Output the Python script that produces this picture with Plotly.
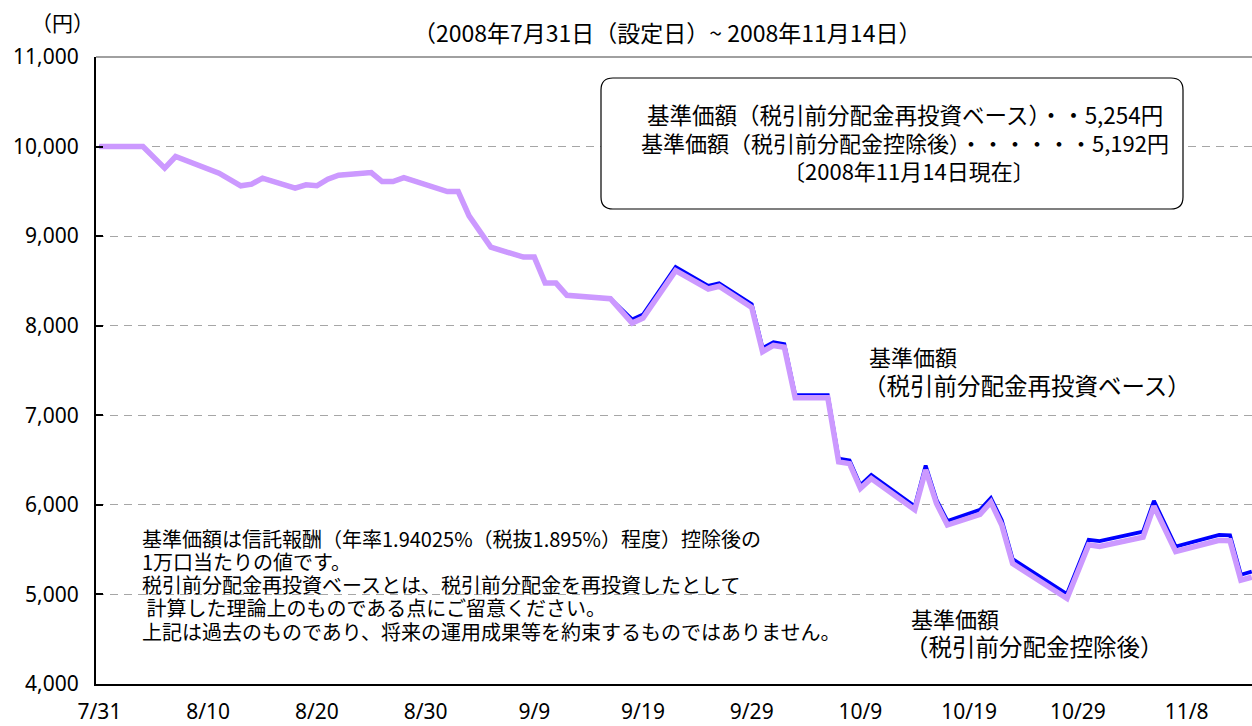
import plotly.graph_objects as go

# ---- data ----
dates = ["2008-07-31", "2008-08-04", "2008-08-06", "2008-08-07", "2008-08-11", "2008-08-13",
         "2008-08-14", "2008-08-15", "2008-08-18", "2008-08-19", "2008-08-20", "2008-08-21",
         "2008-08-22", "2008-08-25", "2008-08-26", "2008-08-27", "2008-08-28", "2008-09-01",
         "2008-09-02", "2008-09-03", "2008-09-05", "2008-09-08", "2008-09-09", "2008-09-10",
         "2008-09-11", "2008-09-12", "2008-09-16", "2008-09-18", "2008-09-19", "2008-09-22",
         "2008-09-25", "2008-09-26", "2008-09-29", "2008-09-30", "2008-10-01", "2008-10-02",
         "2008-10-03", "2008-10-06", "2008-10-07", "2008-10-08", "2008-10-09", "2008-10-10",
         "2008-10-14", "2008-10-15", "2008-10-16", "2008-10-17", "2008-10-20", "2008-10-21",
         "2008-10-22", "2008-10-23", "2008-10-28", "2008-10-30", "2008-10-31", "2008-11-04",
         "2008-11-05", "2008-11-07", "2008-11-11", "2008-11-12", "2008-11-13", "2008-11-14"]

nav_after_dist = [10000, 10000, 9759, 9889, 9703, 9562,
                  9581, 9648, 9536, 9573, 9562, 9636,
                  9681, 9710, 9610, 9610, 9654, 9498,
                  9498, 9227, 8877, 8766, 8766, 8476,
                  8476, 8339, 8302, 8030, 8086, 8615,
                  8410, 8440, 8205, 7710, 7780, 7760,
                  7195, 7195, 6480, 6460, 6185, 6295,
                  5945, 6390, 6015, 5775, 5895, 6030,
                  5775, 5345, 4955, 5555, 5535, 5640,
                  5985, 5480, 5605, 5600, 5160, 5192]

nav_reinvest = [10000, 10000, 9759, 9889, 9703, 9562,
                9581, 9648, 9536, 9573, 9562, 9636,
                9681, 9710, 9610, 9610, 9654, 9498,
                9498, 9227, 8877, 8766, 8766, 8476,
                8476, 8339, 8302, 8070, 8125, 8655,
                8445, 8475, 8240, 7750, 7815, 7795,
                7225, 7225, 6515, 6495, 6220, 6335,
                5985, 6440, 6055, 5820, 5945, 6075,
                5830, 5395, 5005, 5610, 5595, 5700,
                6045, 5535, 5665, 5660, 5220, 5254]

x_tick_dates = ["2008-07-31", "2008-08-10", "2008-08-20", "2008-08-30", "2008-09-09", "2008-09-19",
                "2008-09-29", "2008-10-09", "2008-10-19", "2008-10-29", "2008-11-08"]
x_tick_labels = ["7/31", "8/10", "8/20", "8/30", "9/9", "9/19", "9/29", "10/9", "10/19", "10/29", "11/8"]
y_tick_vals = [4000, 5000, 6000, 7000, 8000, 9000, 10000, 11000]
y_tick_labels = ["4,000", "5,000", "6,000", "7,000", "8,000", "9,000", "10,000", "11,000"]

# ---- layout geometry (page pixels) ----
W, H = 1252, 726
L, R, T, B = 96, 1252, 57, 684   # plot area in page pixels

def px(x):
    return (x - L) / (R - L)

def py(y):
    return (B - y) / (B - T)

NUM = "Liberation Sans Narrow, Arial Narrow, Noto Sans, sans-serif"
JP = "Noto Sans CJK JP, sans-serif"

fig = go.Figure()
fig.add_trace(go.Scatter(x=dates, y=nav_reinvest, mode="lines",
                         line=dict(color="#0000FF", width=3.8),
                         name="基準価額（税引前分配金再投資ベース）", showlegend=False))
fig.add_trace(go.Scatter(x=dates, y=nav_after_dist, mode="lines",
                         line=dict(color="#CC99FF", width=5.5),
                         name="基準価額（税引前分配金控除後）", showlegend=False))

fig.update_layout(
    width=W, height=H,
    margin=dict(l=L, r=W - R, t=T, b=H - B, pad=0),
    paper_bgcolor="white", plot_bgcolor="white",
    font=dict(family=JP, size=20, color="black"),
    xaxis=dict(type="date", range=["2008-07-30 16:20", "2008-11-14 00:30"],
               tickvals=x_tick_dates, ticktext=x_tick_labels,
               showgrid=False, zeroline=False, showline=True, linecolor="black", linewidth=2,
               ticks="", tickfont=dict(family=NUM, size=21), ticklabelstandoff=8,
               automargin=False),
    yaxis=dict(range=[4000, 11000], tickvals=y_tick_vals, ticktext=y_tick_labels,
               showgrid=True, gridcolor="#A6A6A6", gridwidth=1, griddash="8px,6px",
               zeroline=False, showline=True, linecolor="black", linewidth=2,
               ticks="inside", ticklen=7, tickwidth=1.5, tickcolor="black",
               tickfont=dict(family=NUM, size=21), ticklabelstandoff=11,
               automargin=False),
)

# top border of plot area
fig.add_shape(type="line", xref="paper", yref="paper", x0=0, x1=1, y0=1, y1=1,
              line=dict(color="#808080", width=1.5))

# rounded info box
bx0, bx1, by0, by1, r = 601, 1183, 78, 209, 12
path = (f"M {px(bx0 + r)},{py(by0)} L {px(bx1 - r)},{py(by0)} "
        f"Q {px(bx1)},{py(by0)} {px(bx1)},{py(by0 + r)} "
        f"L {px(bx1)},{py(by1 - r)} Q {px(bx1)},{py(by1)} {px(bx1 - r)},{py(by1)} "
        f"L {px(bx0 + r)},{py(by1)} Q {px(bx0)},{py(by1)} {px(bx0)},{py(by1 - r)} "
        f"L {px(bx0)},{py(by0 + r)} Q {px(bx0)},{py(by0)} {px(bx0 + r)},{py(by0)} Z")
fig.add_shape(type="path", xref="paper", yref="paper", path=path,
              line=dict(color="black", width=1.2), fillcolor="white", layer="above")

def text(x, y, s, size=20, xanchor="left", family=JP):
    fig.add_annotation(x=px(x), y=py(y), xref="paper", yref="paper", text=s,
                       showarrow=False, xanchor=xanchor, yanchor="middle",
                       font=dict(family=family, size=size, color="black"))

text(62, 22, "（円）", size=21, xanchor="center")
text(667, 32, "（2008年7月31日（設定日）~ 2008年11月14日）", size=23, xanchor="center")

text(905, 114, "基準価額（税引前分配金再投資ベース）・・5,254円", size=22.5, xanchor="center")
text(905, 142, "基準価額（税引前分配金控除後）・・・・・・5,192円", size=22, xanchor="center")
text(909, 170, "〔2008年11月14日現在〕", size=22, xanchor="center")

text(867, 356, "基準価額", size=22)
text(861, 385, "（税引前分配金再投資ベース）", size=23.5)
text(909, 618, "基準価額", size=22)
text(903, 646, "（税引前分配金控除後）", size=23.5)

notes = ["基準価額は信託報酬（年率1.94025%（税抜1.895%）程度）控除後の",
         "1万口当たりの値です。",
         "税引前分配金再投資ベースとは、税引前分配金を再投資したとして",
         " 計算した理論上のものである点にご留意ください。",
         "上記は過去のものであり、将来の運用成果等を約束するものではありません。"]
note_y = [538, 561, 584, 607, 631]
for s, yy in zip(notes, note_y):
    text(140, yy, s.replace(" ", "&nbsp;"), size=20)

fig.write_html("out.html", config={"displayModeBar": False},
               post_script="document.body.style.margin='0';document.body.style.overflow='hidden';")
